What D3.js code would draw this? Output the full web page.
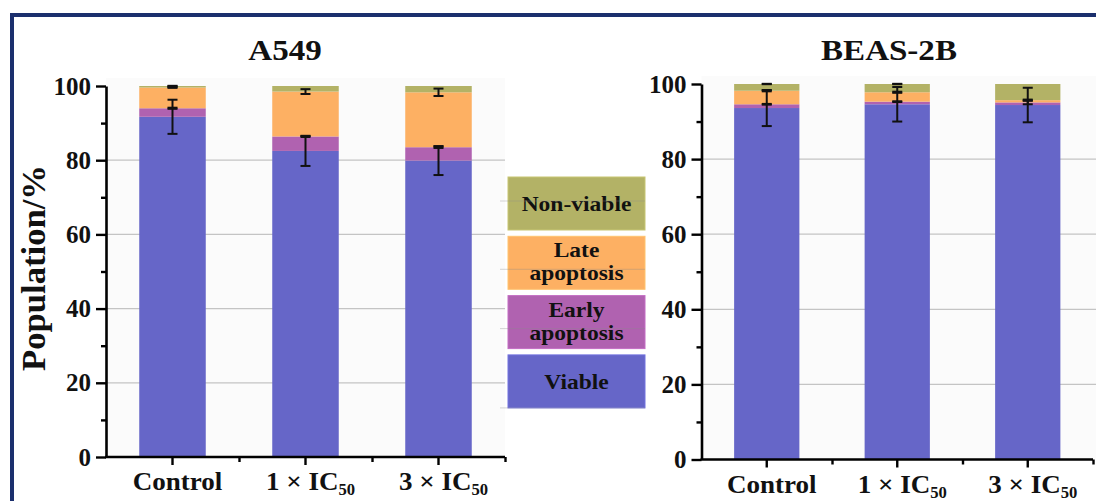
<!DOCTYPE html>
<html>
<head>
<meta charset="utf-8">
<script src="https://cdn.jsdelivr.net/npm/d3@7"></script>
<style>
  html, body { margin: 0; padding: 0; background: #ffffff; }
  svg { display: block; }
  text { font-family: "Liberation Serif", "Times New Roman", serif; font-weight: bold; fill: #111; }
</style>
</head>
<body>
<svg id="chart" width="1096" height="501"></svg>
<script>
// ---- data ----
const categories = ["Control", "1 × IC50", "3 × IC50"];
const seriesNames = ["Viable", "Early apoptosis", "Late apoptosis", "Non-viable"];
const seriesColors = ["#6666c8", "#b062b0", "#fdb063", "#b3b266"];
const yTicks = [0, 20, 40, 60, 80, 100];
const yMinorTicks = [10, 30, 50, 70, 90];

// A549 (% of population), bottom to top of each stack
const a549Viable = [91.7, 82.5, 79.9];
const a549Early = [2.3, 3.9, 3.6];
const a549Late = [5.6, 12.1, 14.8];
const a549NonViable = [0.4, 1.5, 1.7];
const a549ViableErr = [4.6, 4.05, 3.9];
const a549EarlyErr = [0.15, 0.15, 0.2];
const a549LateErr = [0.1, 0.65, 1.0];
const a549NonViableErr = [0.05, 0, 0];

// BEAS-2B
const beasViable = [93.6, 94.6, 94.4];
const beasEarly = [1.0, 0.7, 0.7];
const beasLate = [3.6, 2.5, 0.6];
const beasNonViable = [1.8, 2.2, 4.3];
const beasViableErr = [4.8, 4.6, 4.6];
const beasEarlyErr = [0.1, 0.1, 0.5];
const beasLateErr = [0.15, 0.15, 0.15];
const beasNonViableErr = [0.05, 0.05, 0];

// ---- layout ----
const svg = d3.select("#chart");
const FONT = '"Liberation Serif", "Times New Roman", serif';

// outer frame
svg.append("rect")
  .attr("x", 12).attr("y", 15)
  .attr("width", 1120).attr("height", 520)
  .attr("fill", "none")
  .attr("stroke", "#1b2f6d")
  .attr("stroke-width", 4);

const panels = [
  {
    title: "A549", titleX: 285,
    x0: 106, x1: 505, yTop: 86, yBottom: 457,
    values: [a549Viable, a549Early, a549Late, a549NonViable],
    errors: [a549ViableErr, a549EarlyErr, a549LateErr, a549NonViableErr],
    gridRight: 505
  },
  {
    title: "BEAS-2B", titleX: 889,
    x0: 701.5, x1: 1093, yTop: 84, yBottom: 459.5,
    values: [beasViable, beasEarly, beasLate, beasNonViable],
    errors: [beasViableErr, beasEarlyErr, beasLateErr, beasNonViableErr],
    gridRight: 1096
  }
];

panels.forEach(p => {
  const g = svg.append("g");

  const x = d3.scaleBand().domain(categories).range([p.x0, p.x1]).paddingInner(0.5).paddingOuter(0.25);
  const xPos = d3.scaleLinear().domain([0, categories.length]).range([p.x0, p.x1]);
  const y = d3.scaleLinear().domain([0, 100]).range([p.yBottom, p.yTop]);

  // faint plot background
  g.append("rect")
    .attr("x", p.x0).attr("y", p.yTop - 8)
    .attr("width", p.gridRight - p.x0).attr("height", p.yBottom - p.yTop + 8)
    .attr("fill", "#fbfbfb");

  // horizontal grid
  g.selectAll("line.grid").data([20, 40, 60, 80]).join("line")
    .attr("class", "grid")
    .attr("x1", p.x0).attr("x2", p.gridRight)
    .attr("y1", d => y(d)).attr("y2", d => y(d))
    .attr("stroke", "#c4c4c4").attr("stroke-width", 1.2);

  // stacked segments
  const rows = categories.map((c, i) => {
    const r = { cat: c };
    seriesNames.forEach((s, k) => { r[s] = p.values[k][i]; });
    return r;
  });
  const stack = d3.stack().keys(seriesNames)(rows);

  stack.forEach((layer, k) => {
    g.append("g").selectAll("rect").data(layer).join("rect")
      .attr("x", d => x(d.data.cat))
      .attr("width", x.bandwidth())
      .attr("y", d => y(d[1]))
      .attr("height", d => y(d[0]) - y(d[1]))
      .attr("fill", seriesColors[k]);
  });

  // error bars at the top of each segment
  const capHalf = 5;
  stack.forEach((layer, k) => {
    layer.forEach((d, i) => {
      const e = p.errors[k][i];
      if (e <= 0) return;
      const cx = x(d.data.cat) + x.bandwidth() / 2;
      const hi = Math.min(d[1] + e, 100.2), lo = d[1] - e;
      const eg = g.append("g").attr("stroke", "#111").attr("stroke-width", 2);
      eg.append("line").attr("x1", cx).attr("x2", cx).attr("y1", y(hi)).attr("y2", y(lo));
      [hi, lo].forEach(v => {
        eg.append("line").attr("x1", cx - capHalf).attr("x2", cx + capHalf)
          .attr("y1", y(v)).attr("y2", y(v));
      });
    });
  });

  // y axis: major + minor ticks
  const yAxis = g.append("g").attr("transform", `translate(${p.x0},0)`)
    .call(d3.axisLeft(y).tickValues(yTicks).tickSize(10).tickSizeOuter(0).tickPadding(5));
  yAxis.select(".domain").attr("stroke", "#000").attr("stroke-width", 2.6);
  yAxis.selectAll(".tick line").attr("stroke", "#000").attr("stroke-width", 2.4);
  yAxis.selectAll(".tick text")
    .style("font-family", FONT).style("font-weight", "bold").style("font-size", "25px")
    .attr("fill", "#111");

  const yMinor = g.append("g").attr("transform", `translate(${p.x0},0)`)
    .call(d3.axisLeft(y).tickValues(yMinorTicks).tickSize(5).tickFormat(""));
  yMinor.select(".domain").remove();
  yMinor.selectAll(".tick line").attr("stroke", "#000").attr("stroke-width", 2.4);

  // x axis: major ticks at categories, minor ticks between
  const xAxis = g.append("g").attr("transform", `translate(0,${p.yBottom})`)
    .call(d3.axisBottom(x).tickSize(8).tickSizeOuter(0).tickFormat(""));
  xAxis.select(".domain").attr("stroke", "#000").attr("stroke-width", 2.6)
    .attr("d", `M${p.x0 - 1},0H${p.x1}`);
  xAxis.selectAll(".tick line").attr("stroke", "#000").attr("stroke-width", 2.4);

  const xMinor = g.append("g").attr("transform", `translate(0,${p.yBottom})`)
    .call(d3.axisBottom(xPos).tickValues([1, 2, 3]).tickSize(5).tickFormat(""));
  xMinor.select(".domain").remove();
  xMinor.selectAll(".tick line").attr("stroke", "#000").attr("stroke-width", 2.4);

  // category labels (IC50 with subscript)
  categories.forEach(c => {
    const m = c.match(/^(.*IC)(\d+)$/);
    const t = g.append("text")
      .attr("text-anchor", "middle")
      .attr("transform", `translate(${x(c) + x.bandwidth() / 2 + 5},${p.yBottom + 33}) scale(1.04,1)`)
      .style("font-size", "26px");
    if (m) {
      t.append("tspan").text(m[1]);
      t.append("tspan").text(m[2]).attr("dy", 5).style("font-size", "16px");
    } else {
      t.text(c);
    }
  });

  // panel title
  svg.append("text")
    .attr("text-anchor", "middle")
    .attr("transform", `translate(${p.titleX},60) scale(1.14,1)`)
    .style("font-size", "29px")
    .text(p.title);
});

// y-axis title
svg.append("text")
  .attr("text-anchor", "middle")
  .attr("transform", "translate(45,268) rotate(-90) scale(1.05,1)")
  .style("font-size", "33px")
  .text("Population/%");

// legend (top to bottom: Non-viable, Late, Early, Viable)
const legendOrder = [3, 2, 1, 0];
const legendLines = [["Non-viable"], ["Late", "apoptosis"], ["Early", "apoptosis"], ["Viable"]];
const legendX = 508, legendW = 137, legendH = 53, legendTop = 177, legendStep = 59.3;
const lg = svg.append("g");
legendOrder.forEach((k, row) => {
  const top = legendTop + row * legendStep;
  lg.append("rect")
    .attr("x", legendX).attr("y", top)
    .attr("width", legendW).attr("height", legendH)
    .attr("fill", seriesColors[k])
    .attr("stroke", d3.color(seriesColors[k]).brighter(0.3))
    .attr("stroke-width", 1);
  const lines = legendLines[row];
  const cx = legendX + legendW / 2;
  lines.forEach((ln, j) => {
    const by = lines.length === 1 ? top + 34 : top + 21 + j * 23;
    lg.append("text")
      .attr("text-anchor", "middle")
      .attr("transform", `translate(${cx},${by}) scale(1.12,1)`)
      .style("font-size", "21px")
      .text(ln);
  });
  // faint guide line through the entry
  const gy = lines.length === 1 ? top + 24 : top + 33;
  lg.append("line")
    .attr("x1", 500).attr("x2", legendX + legendW)
    .attr("y1", row === 3 ? top + legendH : gy).attr("y2", row === 3 ? top + legendH : gy)
    .attr("stroke", "#8a8a8a").attr("stroke-opacity", 0.35).attr("stroke-width", 1);
});
</script>
</body>
</html>
